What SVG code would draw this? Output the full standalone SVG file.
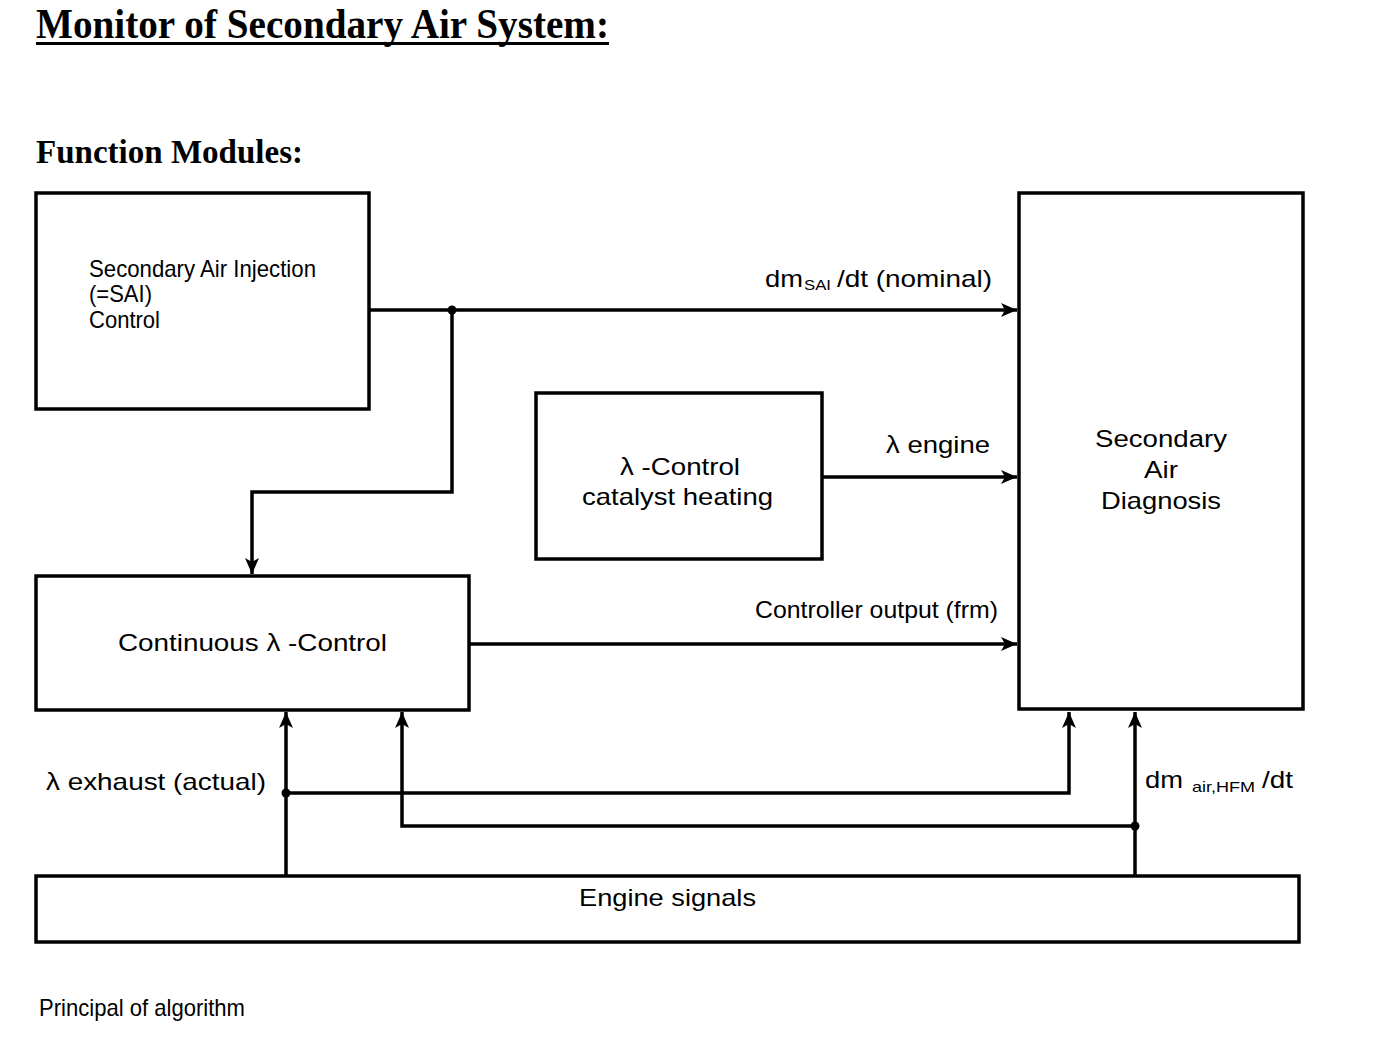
<svg xmlns="http://www.w3.org/2000/svg" width="1376" height="1044" viewBox="0 0 1376 1044">
<style>
.box{fill:#fff;stroke:#000;stroke-width:3.5}
.ln{fill:none;stroke:#000;stroke-width:3.5}
.t{font-family:"Liberation Sans",Arial,sans-serif;fill:#000;font-size:24px}
.s{font-family:"Liberation Sans",Arial,sans-serif;fill:#000;font-size:15px}
.h{font-family:"Liberation Serif","Times New Roman",serif;font-weight:bold;fill:#000}
</style>
<defs>
<marker id="arr" markerUnits="userSpaceOnUse" markerWidth="18" markerHeight="16" refX="16" refY="7" orient="auto">
<path d="M0,0 L16,7 L0,14 L4,7 z" fill="#000"/>
</marker>
</defs>
<rect width="1376" height="1044" fill="#fff"/>
<text class="h" x="36" y="38" font-size="42" textLength="573" lengthAdjust="spacingAndGlyphs">Monitor of Secondary Air System:</text>
<rect x="36" y="42" width="573" height="3" fill="#000"/>
<text class="h" x="36" y="163" font-size="34" textLength="267" lengthAdjust="spacingAndGlyphs">Function Modules:</text>

<g id="sai">
<rect class="box" x="36" y="193" width="333" height="216"/>
<text class="t" font-size="20" x="89" y="277" textLength="227" lengthAdjust="spacingAndGlyphs">Secondary Air Injection</text>
<text class="t" font-size="20" x="89" y="302" textLength="63" lengthAdjust="spacingAndGlyphs">(=SAI)</text>
<text class="t" font-size="20" x="89" y="328" textLength="71" lengthAdjust="spacingAndGlyphs">Control</text>
</g>
<g id="diag">
<rect class="box" x="1019" y="193" width="284" height="516"/>
<text class="t" x="1095" y="447" textLength="132" lengthAdjust="spacingAndGlyphs">Secondary</text>
<text class="t" x="1144" y="478" textLength="34" lengthAdjust="spacingAndGlyphs">Air</text>
<text class="t" x="1101" y="509" textLength="120" lengthAdjust="spacingAndGlyphs">Diagnosis</text>
</g>
<g id="cat">
<rect class="box" x="536" y="393" width="286" height="166"/>
<text class="t" x="620" y="475" textLength="120" lengthAdjust="spacingAndGlyphs">λ -Control</text>
<text class="t" x="582" y="505" textLength="191" lengthAdjust="spacingAndGlyphs">catalyst heating</text>
</g>
<g id="cont">
<rect class="box" x="36" y="576" width="433" height="134"/>
<text class="t" x="118" y="651" textLength="269" lengthAdjust="spacingAndGlyphs">Continuous λ -Control</text>
</g>
<g id="engine">
<rect class="box" x="36" y="876" width="1263" height="66"/>
<text class="t" x="579" y="906" textLength="177" lengthAdjust="spacingAndGlyphs">Engine signals</text>
</g>

<g id="connectors">
<path class="ln" d="M369,310 H1017" marker-end="url(#arr)"/>
<path class="ln" d="M452,310 V492 H252 V574" marker-end="url(#arr)"/>
<path class="ln" d="M822,477 H1017" marker-end="url(#arr)"/>
<path class="ln" d="M469,644 H1017" marker-end="url(#arr)"/>
<path class="ln" d="M286,876 V712" marker-end="url(#arr)"/>
<path class="ln" d="M286,793 H1069 V712" marker-end="url(#arr)"/>
<path class="ln" d="M1135,876 V712" marker-end="url(#arr)"/>
<path class="ln" d="M1135,826 H402 V712" marker-end="url(#arr)"/>
<circle cx="452" cy="310" r="4.5" fill="#000"/>
<circle cx="286" cy="793" r="4.5" fill="#000"/>
<circle cx="1135" cy="826" r="4.5" fill="#000"/>
</g>

<g id="labels">
<text class="t" x="765" y="287" textLength="38" lengthAdjust="spacingAndGlyphs">dm</text>
<text class="s" x="804" y="290" textLength="27" lengthAdjust="spacingAndGlyphs">SAI</text>
<text class="t" x="837" y="287" textLength="155" lengthAdjust="spacingAndGlyphs">/dt (nominal)</text>
<text class="t" x="886" y="453" textLength="104" lengthAdjust="spacingAndGlyphs">λ engine</text>
<text class="t" font-size="22" x="755" y="618" textLength="243" lengthAdjust="spacingAndGlyphs">Controller output (frm)</text>
<text class="t" x="46" y="790" textLength="220" lengthAdjust="spacingAndGlyphs">λ exhaust (actual)</text>
<text class="t" x="1145" y="788" textLength="38" lengthAdjust="spacingAndGlyphs">dm</text>
<text class="s" x="1192" y="792" textLength="63" lengthAdjust="spacingAndGlyphs">air,HFM</text>
<text class="t" x="1262" y="788" textLength="31" lengthAdjust="spacingAndGlyphs">/dt</text>
<text class="t" font-size="20" x="39" y="1016" textLength="206" lengthAdjust="spacingAndGlyphs">Principal of algorithm</text>
</g>
</svg>
